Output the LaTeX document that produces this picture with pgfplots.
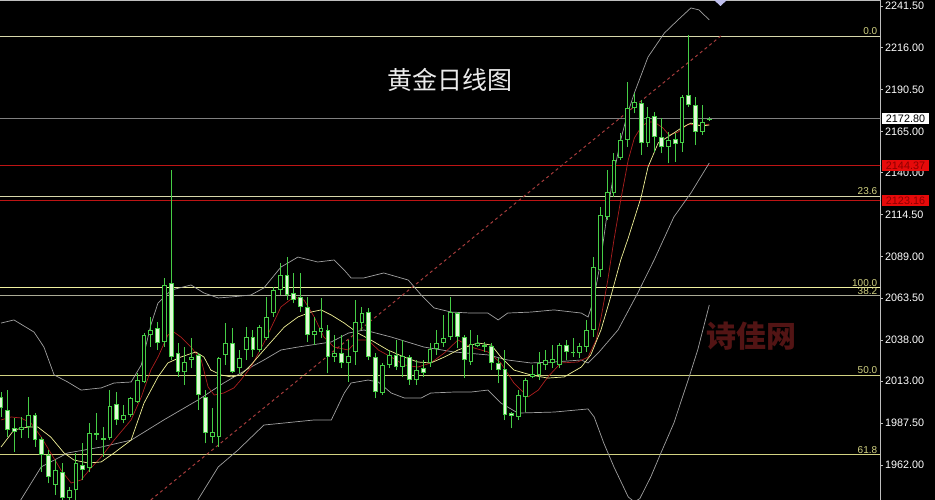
\documentclass[border=0pt]{standalone}
\usepackage{fontspec}
\setmainfont{Liberation Sans}
\newfontfamily\cjk{Noto Sans CJK SC}
\usepackage{pgfplots}
\usepackage{pgfplotstable}
\pgfplotsset{compat=1.18}

\definecolor{cgreen}{RGB}{70,205,70}
\definecolor{cwhite}{RGB}{225,250,215}
\definecolor{bband}{RGB}{160,160,160}
\definecolor{mared}{RGB}{170,30,30}
\definecolor{mayel}{RGB}{240,240,150}
\definecolor{fibyel}{RGB}{210,210,130}
\definecolor{fibpale}{RGB}{215,215,170}
\definecolor{fibgrey}{RGB}{170,170,150}
\definecolor{lvred}{RGB}{190,20,20}
\definecolor{trend}{RGB}{165,60,60}
\definecolor{wmred}{RGB}{82,20,20}
\definecolor{axisgrey}{RGB}{190,190,190}
\definecolor{boxred}{RGB}{230,10,10}
\definecolor{boxtxt}{RGB}{140,0,0}

% daily candles: index, open, high, low, close
\pgfplotstableread{
i O H L C
0 2003.6 2006.6 1991.4 1996.5
1 1995.5 2007.6 1979.2 1983.3
2 1984.3 1990.4 1970.1 1982.3
3 1983.3 1991.4 1978.2 1985.3
4 1985.3 2003.6 1978.2 1992.4
5 1992.4 1993.5 1973.1 1977.2
6 1977.6 1979.2 1957.9 1968.1
7 1968.1 1971.1 1950.8 1954.9
8 1949.8 1965.0 1943.7 1958.9
9 1957.9 1963.0 1938.0 1942.0
10 1942.0 1948.8 1938.0 1946.7
11 1946.7 1969.1 1940.7 1963.0
12 1962.0 1975.2 1952.8 1958.9
13 1959.9 1987.3 1957.9 1981.3
14 1981.3 1993.5 1977.2 1980.2
15 1978.2 1985.3 1967.0 1977.2
16 1978.2 2007.6 1977.2 1997.9
17 1999.1 2006.6 1986.3 1989.4
18 1989.4 1998.3 1987.3 1992.4
19 1992.4 2003.6 1991.4 2002.6
20 2000.5 2017.8 1999.5 2013.7
21 2012.7 2042.2 2011.7 2041.1
22 2041.1 2052.3 2034.0 2044.2
23 2045.2 2049.3 2032.0 2036.1
24 2037.1 2075.6 2034.0 2071.6
25 2072.6 2141.6 2025.9 2027.9
26 2030.0 2036.1 2015.7 2018.8
27 2018.8 2034.0 2010.7 2024.9
28 2025.9 2039.1 2020.8 2027.9
29 2028.9 2030.0 1995.5 2004.6
30 2003.6 2007.6 1975.2 1981.3
31 1979.2 1996.5 1975.2 1982.3
32 1979.2 2027.9 1973.1 2026.9
33 2028.9 2048.2 2022.9 2036.1
34 2036.1 2045.2 2017.8 2018.8
35 2020.8 2032.0 2017.8 2026.9
36 2032.0 2046.2 2025.9 2040.1
37 2040.1 2044.2 2027.9 2032.0
38 2032.0 2047.2 2031.0 2045.8
39 2039.1 2064.5 2038.1 2052.3
40 2054.3 2070.6 2052.3 2068.5
41 2068.5 2084.8 2065.5 2077.7
42 2077.7 2088.8 2062.4 2065.5
43 2066.5 2078.7 2060.4 2062.4
44 2064.5 2078.7 2055.3 2058.4
45 2058.4 2064.5 2037.1 2041.1
46 2041.1 2052.3 2035.0 2043.6
47 2043.2 2063.5 2039.1 2045.2
48 2044.2 2047.2 2017.8 2027.9
49 2027.9 2041.1 2024.9 2030.0
50 2030.0 2041.1 2020.8 2023.9
51 2023.9 2038.1 2012.7 2028.4
52 2031.0 2062.4 2022.9 2049.3
53 2048.3 2058.4 2044.2 2054.3
54 2055.3 2057.4 2025.9 2027.9
55 2027.9 2030.0 2002.6 2006.6
56 2005.6 2023.9 2004.6 2022.9
57 2022.9 2032.0 2020.8 2028.9
58 2028.9 2038.1 2019.8 2021.8
59 2021.8 2038.1 2015.7 2028.4
60 2027.9 2029.0 2010.7 2013.7
61 2013.7 2025.9 2010.7 2019.8
62 2020.8 2025.9 2015.7 2018.2
63 2023.9 2036.1 2021.8 2032.4
64 2032.4 2044.2 2029.0 2036.5
65 2036.1 2053.3 2034.0 2039.1
66 2039.7 2064.5 2038.1 2055.3
67 2054.3 2055.3 2033.0 2040.1
68 2039.7 2041.1 2014.7 2025.9
69 2024.9 2044.1 2022.9 2035.4
70 2034.4 2041.1 2034.0 2036.0
71 2035.0 2037.0 2031.0 2034.0
72 2034.4 2036.0 2019.8 2023.9
73 2023.9 2026.9 2011.7 2019.8
74 2020.2 2032.0 1989.3 1992.4
75 1993.4 1994.4 1984.3 1991.8
76 1991.4 2007.6 1989.3 2004.6
77 2003.6 2014.7 1994.4 2013.7
78 2015.7 2022.8 2014.7 2017.1
79 2016.7 2031.0 2013.7 2023.9
80 2022.9 2032.0 2019.8 2025.9
81 2024.3 2035.0 2020.8 2026.5
82 2022.9 2036.0 2020.8 2035.0
83 2035.0 2038.1 2025.9 2030.9
84 2030.9 2039.1 2027.9 2029.9
85 2029.9 2036.0 2026.9 2034.4
86 2034.0 2050.2 2031.0 2044.1
87 2044.2 2088.8 2040.0 2082.8
88 2080.7 2119.3 2076.7 2114.2
89 2113.2 2141.6 2111.2 2128.4
90 2127.4 2151.8 2125.4 2147.7
91 2148.7 2163.9 2147.7 2159.9
92 2159.9 2195.4 2155.8 2179.2
93 2179.2 2188.3 2176.1 2183.2
94 2182.6 2184.2 2150.8 2157.8
95 2157.8 2180.2 2155.8 2174.1
96 2174.5 2177.1 2152.8 2161.9
97 2161.5 2173.1 2151.8 2155.8
98 2155.8 2165.0 2145.7 2159.9
99 2160.3 2163.9 2146.7 2157.5
100 2157.8 2187.3 2152.8 2186.3
101 2187.3 2223.8 2180.2 2181.2
102 2181.2 2186.3 2156.8 2165.0
103 2165.0 2181.2 2163.0 2171.1
104 2172.1 2174.1 2171.5 2172.8
}\candles

% bollinger upper band
\pgfplotstableread{
x y
0 2048.4
1.9 2050.3
4.85 2042.9
6.3 2033.8
7.8 2016.8
9.8 2012.5
11.75 2007.6
14.7 2008.9
16.6 2011.9
19.1 2012.5
20.6 2022.9
22.0 2047.2
23.05 2060.6
25.0 2068.5
27.9 2071.6
29.8 2066.7
31.9 2063.7
33.8 2064.3
36.7 2065.5
38.6 2069.8
41.1 2082.5
43.6 2088.6
46.5 2085.6
48.9 2086.8
50.4 2080.7
51.4 2075.9
53.3 2075.9
56.2 2078.9
59.8 2074.6
61.7 2065.5
63.6 2057.6
66.1 2055.1
69.0 2054.5
71.5 2054.5
73.0 2050.3
74.4 2054.5
77.8 2055.1
81.2 2056.4
85.2 2054.5
86.2 2052.1
87.0 2062.0
88.0 2085.0
89.0 2115.0
90.0 2140.0
91.0 2160.0
92.0 2176.0
93.0 2188.5
95.0 2210.4
97.4 2225.0
99.4 2233.0
101.3 2240.3
102.5 2239.1
104.0 2233.0
}\ubb

% bollinger middle band
\pgfplotstableread{
x y
0 1920.0
2.9 1940.7
5.9 1960.8
9.8 1969.3
14.7 1972.9
19.1 1977.1
23.9 1989.4
28.9 2001.5
32.7 2011.9
36.7 2021.6
38.6 2025.9
41.1 2032.0
43.6 2033.8
48.5 2036.9
51.0 2042.3
53.3 2044.2
57.3 2039.9
62.1 2033.8
66.5 2030.8
71.5 2029.0
74.4 2025.9
77.8 2024.1
81.2 2024.7
85.2 2025.9
86.2 2024.1
87.7 2030.2
90.6 2044.2
93.5 2066.7
95.9 2086.8
98.8 2113.0
101.3 2127.6
104.0 2145.9
}\mbb

% bollinger lower band
\pgfplotstableread{
x y
26.0 1925.0
28.9 1940.7
31.9 1960.8
34.8 1971.1
38.6 1986.3
46.0 1989.4
48.5 1989.4
50.4 2005.8
51.4 2011.9
53.9 2013.7
55.4 2012.5
57.3 2005.8
59.2 2002.8
61.7 2002.8
63.1 2005.8
66.5 2006.4
69.0 2006.4
71.5 2007.6
73.4 1999.7
75.9 1993.6
81.2 1994.2
86.2 1996.1
87.1 1991.2
88.5 1975.4
90.0 1960.8
92.1 1942.5
93.0 1939.5
93.8 1941.5
95.4 1954.6
96.9 1969.3
98.8 1987.5
100.9 2013.7
102.3 2032.0
104.0 2059.4
}\lbb

% fast moving average (red)
\pgfplotstableread{
x y
0 1989.4
1.5 1991.2
2.9 1990.6
4.4 1987.5
5.9 1979.0
7.3 1969.3
8.8 1958.9
10.3 1951.0
11.75 1952.8
13.2 1960.1
14.7 1966.8
16.6 1977.1
19.1 1989.4
20.6 2003.4
22.0 2019.8
23.05 2027.7
24.5 2041.1
25.4 2042.9
26.4 2039.9
27.9 2033.8
29.4 2025.9
30.4 2009.5
31.3 2004.6
32.7 2005.8
34.2 2008.9
35.2 2013.7
36.7 2021.6
38.6 2036.3
41.1 2058.2
43.0 2064.3
44.5 2062.4
46.0 2052.1
47.4 2039.9
48.9 2033.8
51.0 2032.0
52.4 2038.1
53.9 2038.1
55.4 2032.0
57.3 2027.7
59.2 2022.9
61.2 2021.6
63.1 2024.1
65.1 2030.2
67.1 2038.1
69.0 2033.8
71.5 2030.8
73.4 2024.1
75.3 2011.9
77.4 2003.4
78.9 2007.6
80.3 2015.6
82.2 2024.1
84.7 2024.7
86.2 2027.7
87.4 2038.1
88.1 2051.5
89.1 2074.6
90.0 2099.0
91.0 2123.4
92.1 2147.7
93.0 2161.1
94.0 2167.8
95.0 2170.9
95.9 2170.9
97.2 2167.2
98.1 2162.9
99.4 2164.7
100.9 2169.6
102.1 2169.0
103.2 2169.0
104.0 2169.6
}\rma

% slow moving average (yellow)
\pgfplotstableread{
x y
0 1972.9
1.9 1983.3
4.0 1985.1
5.4 1985.1
7.3 1979.0
9.25 1969.3
10.7 1965.0
12.8 1963.2
14.7 1963.8
16.6 1969.3
19.1 1977.1
21.0 1999.7
23.05 2015.6
24.5 2024.1
26.4 2027.7
28.6 2030.8
29.8 2027.7
30.8 2019.8
32.3 2016.8
33.8 2015.6
35.2 2016.8
36.7 2022.9
38.6 2032.0
41.6 2046.0
43.6 2052.1
45.5 2055.1
47.0 2056.4
48.5 2053.3
50.4 2048.4
52.4 2042.3
54.3 2038.1
56.8 2032.0
59.2 2027.7
61.2 2024.7
63.1 2024.1
65.1 2027.7
67.1 2032.0
70.0 2036.3
72.0 2035.0
73.4 2027.7
75.3 2019.8
77.8 2016.8
80.3 2014.9
82.7 2015.6
85.2 2021.6
86.6 2029.0
88.1 2044.2
89.6 2065.5
91.0 2086.8
92.1 2100.2
94.0 2125.2
95.0 2143.4
96.5 2158.1
97.9 2161.7
99.9 2167.2
101.3 2170.2
102.8 2168.4
104.0 2169.0
}\yma

\begin{document}
\begin{tikzpicture}
\fill[black] (0,0) rectangle (935pt,500pt);
\node[text=wmred, font=\cjk\bfseries\fontsize{30}{34}\selectfont, inner sep=0pt] at (751pt,164pt) {诗佳网};
\node[text=white!92!black, font=\cjk\fontsize{25}{30}\selectfont, inner sep=0pt] at (450pt,420pt) {黄金日线图};

\begin{axis}[
  at={(0,0)}, anchor=south west,
  scale only axis, width=880pt, height=500pt,
  xmin=-0.15, xmax=129.07, ymin=1940.65, ymax=2245.15,
  axis x line*=top, axis y line*=right,
  axis line style={draw=axisgrey, line width=0.8pt},
  xtick=\empty,
  ytick={1962,1987.5,2013,2038,2063.5,2089,2114.5,2140,2165,2190.5,2216,2241.5},
  tick align=outside, major tick length=3pt,
  tick style={draw=axisgrey, line width=0.8pt},
  yticklabel style={font=\fontsize{10.8}{12}\selectfont, text=white, inner sep=0pt, xshift=2pt,
    /pgf/number format/.cd, fixed, fixed zerofill, precision=2, 1000 sep={}, assume math mode=true},
]
% level lines
\addplot[fibpale, line width=0.9pt] coordinates {(-1,2223.2) (130,2223.2)};
\addplot[gray, line width=0.9pt] coordinates {(-1,2172.8) (130,2172.8)};
\addplot[lvred, line width=0.9pt] coordinates {(-1,2144.37) (130,2144.37)};
\addplot[fibpale, line width=0.9pt] coordinates {(-1,2125.8) (130,2125.8)};
\addplot[lvred, line width=0.9pt] coordinates {(-1,2123.16) (130,2123.16)};
\addplot[mayel!90!white, line width=0.9pt] coordinates {(-1,2070.1) (130,2070.1)};
\addplot[fibgrey, line width=0.9pt] coordinates {(-1,2065.2) (130,2065.2)};
\addplot[fibyel, line width=0.9pt] coordinates {(-1,2016.8) (130,2016.8)};
\addplot[fibyel, line width=0.9pt] coordinates {(-1,1968.2) (130,1968.2)};
% trend line
\addplot[trend, line width=1pt, dash pattern=on 3pt off 3pt] coordinates {(22.0,1940.7) (105.7,2223.2)};
% bollinger bands and averages
\addplot[bband, line width=0.7pt] table[x=x, y=y] {\ubb};
\addplot[bband, line width=0.7pt] table[x=x, y=y] {\mbb};
\addplot[bband, line width=0.7pt] table[x=x, y=y] {\lbb};
\addplot[mared, line width=0.7pt] table[x=x, y=y] {\rma};
\addplot[mayel, line width=0.7pt] table[x=x, y=y] {\yma};
% wicks
\addplot[draw=none, mark=none, error bars/.cd, y dir=plus, y explicit, error mark=none,
  error bar style={draw=cgreen, line width=1pt}]
  table[x=i, y=L, y error plus expr={\thisrow{H}-\thisrow{L}}] {\candles};
% body outlines
\addplot[draw=none, mark=none, error bars/.cd, y dir=plus, y explicit, error mark=none,
  error bar style={draw=cgreen, line width=4.8pt}]
  table[x=i, y expr={min(\thisrow{O},\thisrow{C})}, y error plus expr={max(abs(\thisrow{C}-\thisrow{O}),0.7)}] {\candles};
% bull bodies (hollow)
\addplot[draw=none, mark=none, restrict expr to domain={\thisrow{C}-\thisrow{O}}{0:1000},
  error bars/.cd, y dir=plus, y explicit, error mark=none,
  error bar style={draw=black, line width=2.8pt}]
  table[x=i, y expr={min(\thisrow{O},\thisrow{C})+0.6}, y error plus expr={max(abs(\thisrow{C}-\thisrow{O})-1.2,0)}] {\candles};
% bear bodies (filled)
\addplot[draw=none, mark=none, restrict expr to domain={\thisrow{C}-\thisrow{O}}{-1000:0},
  error bars/.cd, y dir=plus, y explicit, error mark=none,
  error bar style={draw=cwhite, line width=2.8pt}]
  table[x=i, y expr={min(\thisrow{O},\thisrow{C})+0.6}, y error plus expr={max(abs(\thisrow{C}-\thisrow{O})-1.2,0)}] {\candles};
\end{axis}

% fibonacci labels
\begin{scope}[every node/.style={anchor=south east, inner sep=0.6pt, text=fibyel, font=\fontsize{10}{11}\selectfont}]
\node at (878pt,464.5pt) {0.0};
\node at (878pt,304.5pt) {23.6};
\node at (878pt,213pt) {100.0};
\node at (878pt,204.8pt) {38.2};
\node at (878pt,125.5pt) {50.0};
\node at (878pt,45.8pt) {61.8};
\end{scope}

% price boxes
\node[fill=white, text=black, minimum width=47pt, minimum height=11pt, inner sep=0pt,
  font=\fontsize{10.8}{12}\selectfont] at (905.5pt,381.5pt) {2172.80};
\node[fill=boxred, text=boxtxt, minimum width=47pt, minimum height=11pt, inner sep=0pt,
  font=\fontsize{10.8}{12}\selectfont] at (905.5pt,334pt) {2144.37};
\node[fill=boxred, text=boxtxt, minimum width=47pt, minimum height=11pt, inner sep=0pt,
  font=\fontsize{10.8}{12}\selectfont] at (905.5pt,299.5pt) {2123.16};

% scroll marker
\fill[black!30!blue!25!white] (714pt,500pt) -- (727pt,500pt) -- (720.5pt,494pt) -- cycle;

\pgfresetboundingbox
\useasboundingbox (0,0) rectangle (935pt,500pt);
\end{tikzpicture}
\end{document}
